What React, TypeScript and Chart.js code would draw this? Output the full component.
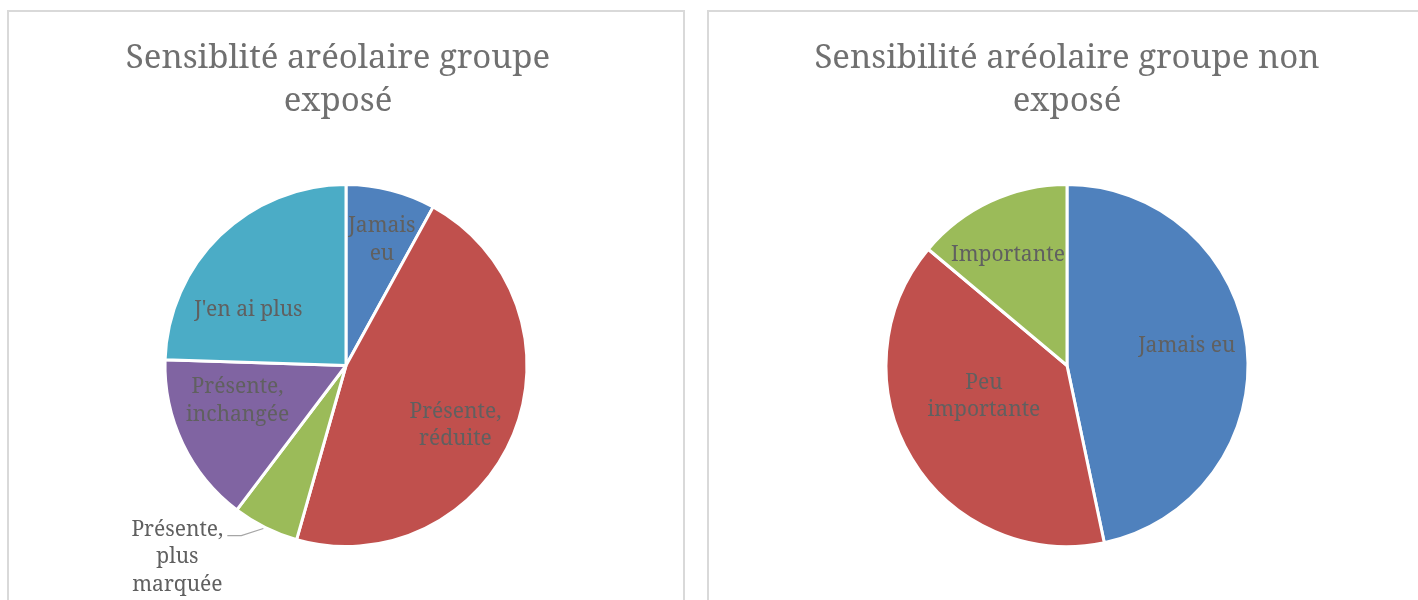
import React, { useEffect, useRef } from "react";
import { Chart, registerables } from "chart.js";

Chart.register(...registerables);

// ---- Data ----
const exposedTitle = ["Sensiblité aréolaire groupe", "exposé"];
const exposedCategories = ["Jamais eu", "Présente, réduite", "Présente, plus marquée", "Présente, inchangée", "J'en ai plus"];
const exposedValues = [8, 46.4, 5.9, 15.2, 24.5];
const exposedLabelLines = [["Jamais", "eu"], ["Présente,", "réduite"], ["Présente,", "plus", "marquée"], ["Présente,", "inchangée"], ["J'en ai plus"]];
const exposedColors = ["#4F81BD", "#C0504D", "#9BBB59", "#8064A2", "#4BACC6"];

const nonExposedTitle = ["Sensibilité aréolaire groupe non", "exposé"];
const nonExposedCategories = ["Jamais eu", "Peu importante", "Importante"];
const nonExposedValues = [46.7, 39.4, 13.9];
const nonExposedLabelLines = [["Jamais eu"], ["Peu", "importante"], ["Importante"]];
const nonExposedColors = ["#4F81BD", "#C0504D", "#9BBB59"];

// label placement (angle shift in degrees from slice middle, radius fraction, outside flag)
const exposedLabelShift = [1.6, 6.5, 14.9, 7.5, -16.3];
const exposedLabelRadius = [0.72, 0.69, 1.41, 0.63, 0.62];
const exposedLabelOutside = [false, false, true, false, false];
const nonExposedLabelShift = [-3.2, 10.5, -3.2];
const nonExposedLabelRadius = [0.67, 0.49, 0.69];
const nonExposedLabelOutside = [false, false, false];

const FONT = "'Noto Serif', 'DejaVu Serif', serif";
const LABEL_COLOR = "#606060";
const TITLE_COLOR = "#707070";

const titlePlugin = {
  id: "customTitle",
  afterDraw(chart: any, _args: any, opts: any) {
    const ctx = chart.ctx;
    ctx.save();
    ctx.font = `${opts.size}px ${FONT}`;
    ctx.fillStyle = TITLE_COLOR;
    ctx.textAlign = "center";
    ctx.textBaseline = "alphabetic";
    const cx = chart.width / 2 + opts.offsetX;
    (opts.lines as string[]).forEach((line, i) => {
      ctx.fillText(line, cx, opts.baseline + i * opts.lineHeight);
    });
    ctx.restore();
  },
};

const labelPlugin = {
  id: "sliceLabels",
  afterDatasetsDraw(chart: any, _args: any, opts: any) {
    const ctx = chart.ctx;
    const meta = chart.getDatasetMeta(0);
    ctx.save();
    ctx.font = `${opts.size}px ${FONT}`;
    ctx.fillStyle = LABEL_COLOR;
    ctx.textAlign = "center";
    ctx.textBaseline = "middle";
    meta.data.forEach((arc: any, i: number) => {
      const { x, y, startAngle, endAngle, outerRadius } = arc.getProps(
        ["x", "y", "startAngle", "endAngle", "outerRadius"],
        true
      );
      const mid = (startAngle + endAngle) / 2;
      const a = mid + (opts.shift[i] * Math.PI) / 180;
      const r = outerRadius * opts.radius[i];
      const cx = x + Math.cos(a) * r;
      const cy = y + Math.sin(a) * r;
      const lines: string[] = opts.lines[i];
      const lh = opts.lineHeight;
      const top = cy - ((lines.length - 1) * lh) / 2;
      lines.forEach((ln, k) => ctx.fillText(ln, cx, top + k * lh));
      if (opts.outside[i]) {
        const w = Math.max(...lines.map((l) => ctx.measureText(l).width));
        const ex = x + Math.cos(mid) * outerRadius;
        const ey = y + Math.sin(mid) * outerRadius;
        const ly = top + 6;
        const lx = cx + w / 2 + 4;
        ctx.beginPath();
        ctx.strokeStyle = "#a6a6a6";
        ctx.lineWidth = 1.2;
        ctx.moveTo(ex - 2, ey + 1);
        ctx.lineTo(lx + 14, ly);
        ctx.lineTo(lx, ly);
        ctx.stroke();
      }
    });
    ctx.restore();
  },
};

function PieBox(props: {
  left: number;
  width: number;
  title: string[];
  titleOffset: number;
  categories: string[];
  values: number[];
  colors: string[];
  lines: string[][];
  shift: number[];
  radius: number[];
  outside: boolean[];
}) {
  const ref = useRef<HTMLCanvasElement>(null);
  const H = 620;
  useEffect(() => {
    const canvas = ref.current!;
    const chart = new Chart(canvas, {
      type: "pie",
      data: {
        labels: props.categories,
        datasets: [
          {
            data: props.values,
            backgroundColor: props.colors,
            borderColor: "#ffffff",
            borderWidth: 3,
          },
        ],
      },
      options: {
        responsive: false,
        animation: false,
        layout: { padding: { top: 171, bottom: H - 171 - 365, left: 0, right: 0 } },
        plugins: {
          legend: { display: false },
          tooltip: { enabled: false },
          customTitle: { lines: props.title, size: 33, baseline: 56, lineHeight: 43, offsetX: props.titleOffset },
          sliceLabels: {
            lines: props.lines,
            shift: props.shift,
            radius: props.radius,
            outside: props.outside,
            size: 21,
            lineHeight: 27.5,
          },
        } as any,
      },
      plugins: [titlePlugin, labelPlugin],
    });
    return () => chart.destroy();
  }, []);
  return (
    <div
      style={{
        position: "absolute",
        left: props.left,
        top: 10,
        width: props.width,
        height: H,
        border: "2px solid #d9d9d9",
        background: "#fff",
      }}
    >
      <canvas ref={ref} width={props.width} height={H} style={{ display: "block" }} />
    </div>
  );
}

export default function App() {
  return (
    <div
      style={{
        position: "fixed",
        left: 0,
        top: 0,
        width: 1418,
        height: 600,
        overflow: "hidden",
        background: "#fff",
      }}
    >
      <PieBox
        left={7}
        width={674}
        title={exposedTitle}
        titleOffset={-8}
        categories={exposedCategories}
        values={exposedValues}
        colors={exposedColors}
        lines={exposedLabelLines}
        shift={exposedLabelShift}
        radius={exposedLabelRadius}
        outside={exposedLabelOutside}
      />
      <PieBox
        left={707}
        width={716}
        title={nonExposedTitle}
        titleOffset={0}
        categories={nonExposedCategories}
        values={nonExposedValues}
        colors={nonExposedColors}
        lines={nonExposedLabelLines}
        shift={nonExposedLabelShift}
        radius={nonExposedLabelRadius}
        outside={nonExposedLabelOutside}
      />
    </div>
  );
}
